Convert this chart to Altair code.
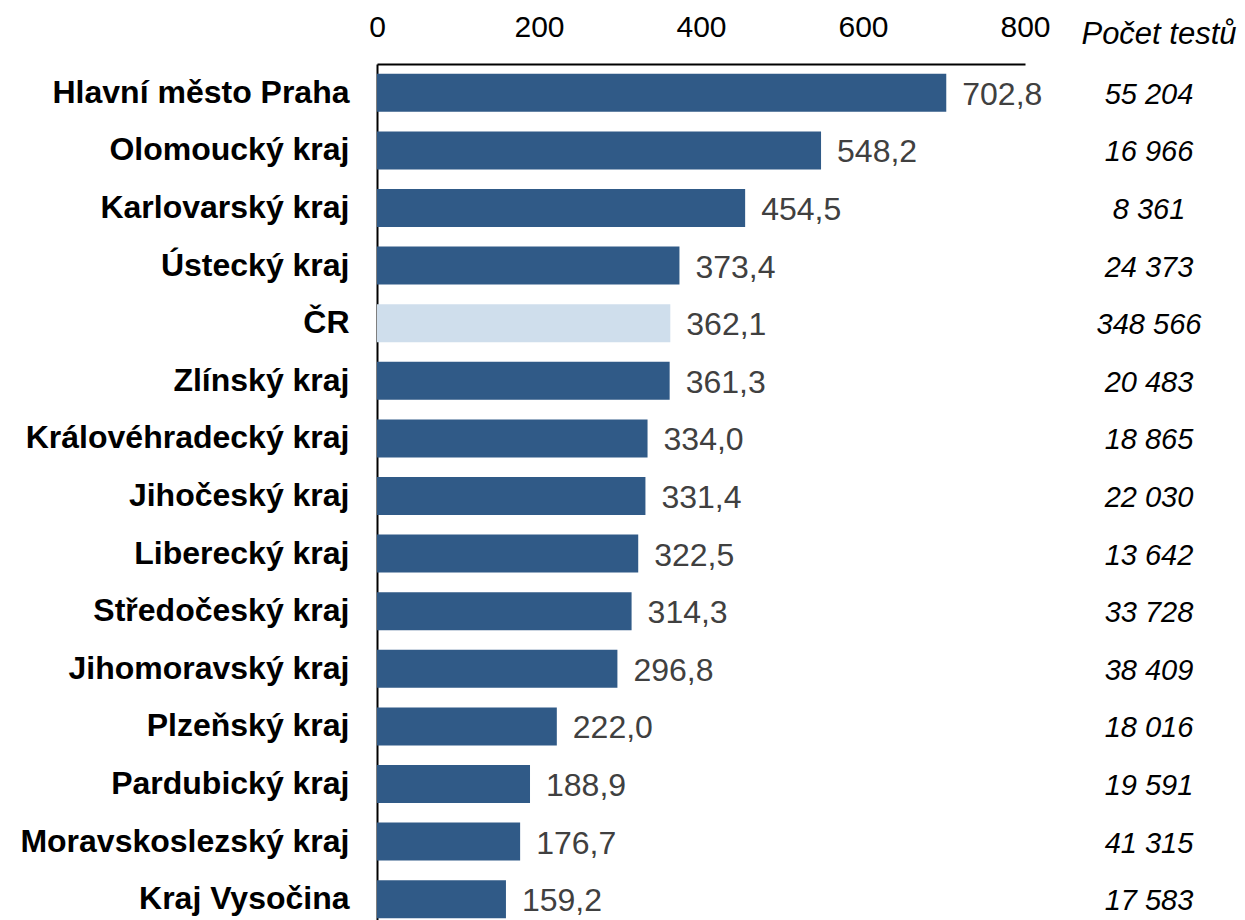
import altair as alt
import pandas as pd

regions = ["Hlavní město Praha", "Olomoucký kraj", "Karlovarský kraj", "Ústecký kraj", "ČR",
           "Zlínský kraj", "Královéhradecký kraj", "Jihočeský kraj", "Liberecký kraj",
           "Středočeský kraj", "Jihomoravský kraj", "Plzeňský kraj", "Pardubický kraj",
           "Moravskoslezský kraj", "Kraj Vysočina"]
values = [702.8, 548.2, 454.5, 373.4, 362.1, 361.3, 334.0, 331.4, 322.5, 314.3, 296.8,
          222.0, 188.9, 176.7, 159.2]
tests = [55204, 16966, 8361, 24373, 348566, 20483, 18865, 22030, 13642, 33728, 38409,
         18016, 19591, 41315, 17583]
x_ticks = [0, 200, 400, 600, 800]
count_header = "Počet testů"

df = pd.DataFrame({
    "region": regions,
    "value": values,
    "label": [f"{v:.1f}".replace(".", ",") for v in values],
    "tests": [f"{t:,}".replace(",", " ") for t in tests],
    "is_cr": ["yes" if r == "ČR" else "no" for r in regions],
})

FONT = "Liberation Sans"

y_enc = alt.Y("region:N", sort=regions, title=None,
              scale=alt.Scale(paddingInner=0.34, paddingOuter=0.17),
              axis=alt.Axis(labelFont=FONT, labelFontSize=32, labelFontWeight="bold",
                            labelColor="black", ticks=False, labelPadding=28,
                            domainColor="black", domainWidth=2, labelLimit=600))
x_enc = alt.X("value:Q", title=None,
              scale=alt.Scale(domain=[0, 800], nice=False),
              axis=alt.Axis(orient="top", values=x_ticks, grid=False, ticks=False,
                            labelFont=FONT, labelFontSize=30, labelColor="black",
                            labelPadding=22, domainColor="black", domainWidth=2,
                            labelFlush=False))

base = alt.Chart(df)

bars = base.mark_bar(size=38).encode(
    y=y_enc, x=x_enc,
    color=alt.Color("is_cr:N", scale=alt.Scale(domain=["no", "yes"], range=["#305A87", "#CFDEEC"]),
                    legend=None),
)

labels = base.mark_text(align="left", baseline="middle", dx=16, dy=2, font=FONT, fontSize=32,
                        color="#404040").encode(
    y=alt.Y("region:N", sort=regions), x=alt.X("value:Q"), text="label:N")

counts = base.mark_text(align="center", baseline="middle", dy=2, font=FONT, fontSize=29,
                        fontStyle="italic", color="black").encode(
    y=alt.Y("region:N", sort=regions), x=alt.value(772), text="tests:N")

header = alt.Chart(pd.DataFrame({"t": [count_header]})).mark_text(
    align="center", baseline="middle", font=FONT, fontSize=31, fontStyle="italic",
    color="black").encode(x=alt.value(782), y=alt.value(-29), text="t:N")

chart = alt.layer(bars, labels, counts, header).properties(
    width=648, height=864,
    padding={"left": 11, "top": 4, "right": 0, "bottom": 5},
).configure(background="white").configure_view(stroke="transparent", strokeWidth=0)

chart.save("out.html", embed_options={"renderer": "svg", "actions": False})
